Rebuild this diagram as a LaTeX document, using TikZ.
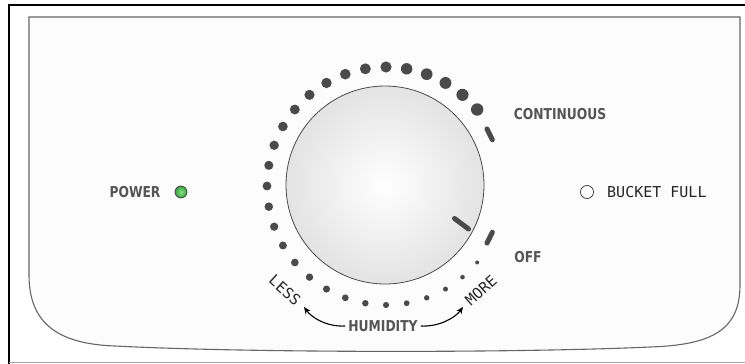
\documentclass[tikz,border=0pt]{standalone}
\usepackage{fontspec}
\usetikzlibrary{arrows.meta}
\newfontfamily\lblfont{DejaVu Sans}[FakeStretch=0.82]
\newfontfamily\mlfont{DejaVu Sans Mono}
\definecolor{txtgray}{HTML}{555555}
\definecolor{dotgray}{HTML}{4A4A4A}
\definecolor{ledin}{RGB}{140,225,130}
\definecolor{ledout}{RGB}{50,160,60}
\begin{document}
\begin{tikzpicture}[x=1pt,y=-1pt,
  lbl/.style={font=\lblfont\bfseries\fontsize{15}{15}\selectfont, text=txtgray, inner sep=0pt},
  mlbl/.style={font=\mlfont\fontsize{15}{15}\selectfont, text=black!85, inner sep=0pt},
  markbar/.style={dotgray, line width=5pt, line cap=round},
  humarrow/.style={-{Stealth[length=7pt,width=6pt]}, line width=1.1pt, black}]
\useasboundingbox (0,0) rectangle (745,364);
\fill[white] (0,0) rectangle (745,364);
% outer frame
\draw[black, line width=2pt] (9,364) -- (9,5) -- (745,5);
\draw[black!35, line width=1.5pt] (9,362.5) -- (745,362.5);
% panel
\draw[black!60, line width=1.1pt, fill=black!1]
  (29,17) -- (740,17) -- (740,285)
  .. controls (740,330) and (712,345) .. (650,347)
  .. controls (520,353) and (250,353) .. (115,346)
  .. controls (60,344) and (29,325) .. (29,275) -- cycle;
% dots
\foreach \i in {0,...,28}{
  \pgfmathsetmacro\t{-40-10*\i}
  \pgfmathsetmacro\s{2+4.2*(\i/28)^0.8}
  \fill[dotgray] ({386+119*cos(\t)},{186-119*sin(\t)}) circle[radius=\s pt];
}
\draw[markbar] ({386+116*cos(23.5)},{186-116*sin(23.5)}) -- ({386+116*cos(29.5)},{186-116*sin(29.5)});
\draw[markbar] ({386+116*cos(-23.5)},{186-116*sin(-23.5)}) -- ({386+116*cos(-29.5)},{186-116*sin(-29.5)});
% knob
\shadedraw[draw=black!70, line width=0.8pt, inner color=white, outer color=black!11] (385,185) circle[radius=99pt];
\draw[markbar] (454.5,218.5) -- (468.5,229);
% labels
\node[lbl] (power) at (135,192) {POWER};
\node[lbl] (cont) at (560,114) {CONTINUOUS};
\node[lbl] (off) at (528,257) {OFF};
\node[lbl] (hum) at (383,326) {HUMIDITY};
\node[mlbl, anchor=west] (bucket) at (607,192) {BUCKET FULL};
\node[mlbl, rotate=-42] (less) at (285,290) {LESS};
\node[mlbl, rotate=42] (more) at (481,290) {MORE};
% indicator lights
\node[circle, minimum size=12pt, inner sep=0pt, draw=black!75, line width=0.7pt, inner color=ledin, outer color=ledout] (led) at (181,192) {};
\node[circle, minimum size=13pt, inner sep=0pt, draw=black!80, line width=0.7pt, fill=white] (bled) at (587,192) {};
% humidity arrows
\coordinate (lesstip) at (304,307);
\coordinate (moretip) at (463,307);
\draw[humarrow] ([xshift=-3pt]hum.west) .. controls +(-18,1) and +(8,11) .. (lesstip);
\draw[humarrow] ([xshift=3pt]hum.east) .. controls +(18,1) and +(-8,11) .. (moretip);
\end{tikzpicture}
\end{document}
